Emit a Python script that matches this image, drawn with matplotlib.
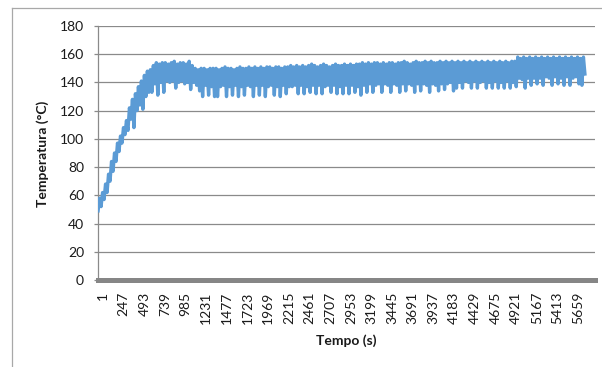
import numpy as np
import matplotlib
matplotlib.use("Agg")
import matplotlib.pyplot as plt
from matplotlib.lines import Line2D
from matplotlib.transforms import ScaledTranslation

plt.rcParams['font.family'] = ['Lato', 'DejaVu Sans']

# --- data -----------------------------------------------------------------
# warm-up phase (noisy rise)
temp_subida = [49, 58, 52, 62, 57, 68, 62, 75, 70, 84, 77, 90, 84, 97, 91, 102,
               97, 108, 103, 113, 106, 122, 114, 128, 108, 132, 120, 137, 124,
               141, 121, 145, 130, 148, 133]

# steady phase: successive upper / lower readings of the oscillation
temp_topo = [149, 152, 154, 153, 154, 154, 153, 154, 155, 153, 154, 154, 153, 155, 152,
             150, 149, 150, 150, 149, 150, 150,
             150, 149, 150, 151, 150, 150, 149, 150, 151, 150, 150, 151, 150, 151, 150,
             151, 150, 151, 151, 150, 151, 151, 150, 151, 151,
             152, 151, 152, 151, 152, 151, 152, 153, 152, 151, 152, 153, 152, 151, 152,
             153, 152, 152, 153, 152, 153, 152, 153,
             153, 154, 153, 154, 153, 154, 154, 153, 154, 153, 154, 154, 153, 154, 154,
             155, 154, 153, 154, 155, 154, 154, 155, 154, 155, 154, 154, 155, 154, 155,
             154, 155,
             154, 155, 154, 155, 154, 155, 154, 155, 154, 155, 154, 155, 154, 155, 154,
             155, 154, 155, 154, 155, 155,
             158, 157, 158, 157, 158, 157, 158, 157, 158, 157, 158, 157, 158, 157, 158,
             157, 158, 157, 158, 157, 158, 157, 158]

temp_fundo = [133, 139, 131, 140, 133, 141, 140, 141, 136, 140, 141, 139, 140, 135, 140,
              138, 134, 130, 138, 131, 137, 130,
              130, 137, 138, 130, 137, 131, 138, 130, 137, 131, 138, 137, 130, 138, 131,
              138, 130, 137, 138, 131, 137, 130, 138, 132, 137,
              137, 138, 132, 138, 132, 137, 133, 138, 132, 138, 132, 137, 138, 133, 138,
              132, 137, 132, 138, 132, 138, 133, 137,
              131, 138, 133, 139, 133, 138, 139, 133, 139, 138, 133, 139, 138, 133, 139,
              134, 139, 138, 133, 139, 134, 139, 138, 133, 139, 138, 134, 139, 135, 139,
              140, 134,
              136, 140, 136, 141, 140, 136, 141, 136, 140, 141, 136, 140, 136, 141, 136,
              140, 136, 141, 136, 140, 137,
              143, 142, 136, 143, 138, 143, 139, 143, 138, 144, 143, 138, 144, 139, 143,
              138, 144, 138, 143, 144, 139, 138, 146]

tempo_inicio, tempo_fim = 1, 5800          # sample index range (s)
ticks_x = list(range(1, 5660, 246))        # 1, 247, ..., 5659
ticks_y = list(range(0, 181, 20))

temperatura = list(temp_subida)
for t, b in zip(temp_topo, temp_fundo):
    temperatura.extend([t, b])
tempo = np.linspace(tempo_inicio, tempo_fim, len(temperatura))

# --- figure ---------------------------------------------------------------
W, H = 602, 367
fig = plt.figure(figsize=(W / 100, H / 100), dpi=100)
ax = fig.add_axes([98 / W, 1 - 280 / H, (595 - 98) / W, (280 - 26) / H])

ax.plot(tempo, temperatura, color='#5B9BD5', lw=2.4, solid_joinstyle='round', zorder=3)

ax.set_xlim(0, 5920)
ax.set_ylim(0, 180)
ax.set_yticks(ticks_y)
ax.set_xticks(ticks_x)
ax.set_xticklabels([str(v) for v in ticks_x], rotation=90, va='top', ha='center')

grid_c = '#8a8a8a'
ax.yaxis.grid(True, color=grid_c, lw=0.9)
ax.xaxis.grid(False)
ax.set_axisbelow(True)

for s in ['top', 'right']:
    ax.spines[s].set_visible(False)
ax.spines['left'].set_color(grid_c)
ax.spines['left'].set_linewidth(0.9)
ax.spines['bottom'].set_color('#868686')
ax.spines['bottom'].set_linewidth(3.6)

ax.tick_params(axis='y', direction='out', length=3, width=0.9, color=grid_c,
               labelsize=10, labelcolor='#1a1a1a', pad=7)
ax.tick_params(axis='x', length=0, labelsize=10, labelcolor='#1a1a1a', pad=8.5)

offset = ScaledTranslation(0.05, 0, fig.dpi_scale_trans)
for lab in ax.get_xticklabels():
    lab.set_transform(lab.get_transform() + offset)

fig.text(346.5 / W, 1 - 341 / H, 'Tempo (s)', ha='center', va='center',
         fontsize=10, fontweight='bold', color='#1a1a1a')
fig.text(43 / W, 1 - 153.5 / H, 'Temperatura (°C)', ha='center', va='center',
         rotation=90, fontsize=10, fontweight='bold', color='#1a1a1a')

# outer chart frame (left and top borders)
frame_c = '#a8a8a8'
fig.add_artist(Line2D([12 / W, 12 / W], [0, 1 - 8 / H], transform=fig.transFigure,
                      color=frame_c, lw=0.9))
fig.add_artist(Line2D([12 / W, 1], [1 - 8 / H, 1 - 8 / H], transform=fig.transFigure,
                      color=frame_c, lw=0.9))

fig.savefig('out.png', dpi=100)
